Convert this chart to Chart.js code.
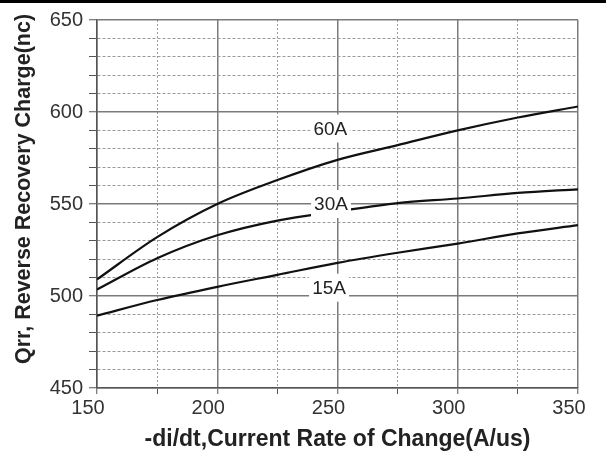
<!DOCTYPE html>
<html>
<head>
<meta charset="utf-8">
<script src="https://cdn.jsdelivr.net/npm/chart.js@4/dist/chart.umd.min.js"></script>
<style>
  html, body { margin: 0; padding: 0; background: #fff; }
  #wrap { width: 606px; height: 457px; }
</style>
</head>
<body>
<div id="wrap"><canvas id="qrr" width="606" height="457"></canvas></div>
<script>
// -di/dt (A/us) sample points
const diDt = [150, 175, 200, 225, 250, 275, 300, 325, 350];
// Reverse recovery charge Qrr (nC) for each forward current
const q60A = [509, 532, 550, 563, 574, 582, 590, 597, 603];
const q30A = [503.5, 520.5, 533, 541, 546, 550.5, 553, 556, 558];
const q15A = [489.3, 497.8, 505, 511.5, 518, 523.5, 528.5, 534, 538.5];
const currents = ['60A', '30A', '15A'];

const FONT = "'Liberation Sans', Arial, Helvetica, sans-serif";

function points(ys) {
  return diDt.map((x, i) => ({ x: x, y: ys[i] }));
}

// Curve labels: white boxes sitting on the curves, anchored in data units
const curveLabels = {
  id: 'curveLabels',
  afterDatasetsDraw(chart, args, opts) {
    const { ctx, scales: { x, y } } = chart;
    ctx.save();
    opts.items.forEach(item => {
      const px = x.getPixelForValue(item.at[0]);
      const py = y.getPixelForValue(item.at[1]);
      ctx.fillStyle = '#fff';
      ctx.fillRect(px - opts.boxW / 2, py - opts.boxH / 2, opts.boxW, opts.boxH);
      ctx.fillStyle = '#222';
      ctx.font = '19px ' + FONT;
      ctx.textAlign = 'center';
      ctx.textBaseline = 'middle';
      ctx.fillText(item.text, px, py + 1);
    });
    ctx.restore();
  }
};

// Axis titles and the dark strip across the top edge
const frameText = {
  id: 'frameText',
  beforeDraw(chart) {
    const { ctx, width } = chart;
    ctx.save();
    ctx.fillStyle = '#fff';
    ctx.fillRect(0, 0, width, chart.height);
    ctx.fillStyle = '#000';
    ctx.fillRect(0, 0, width, 3);
    ctx.restore();
  },
  afterDraw(chart, args, opts) {
    const { ctx, chartArea } = chart;
    ctx.save();
    ctx.fillStyle = '#222';
    ctx.textAlign = 'center';
    ctx.textBaseline = 'middle';
    ctx.font = 'bold 23px ' + FONT;
    ctx.fillText(opts.xTitle, (chartArea.left + chartArea.right) / 2, 440);
    ctx.font = 'bold 21.5px ' + FONT;
    ctx.translate(24, 189);
    ctx.rotate(-Math.PI / 2);
    ctx.fillText(opts.yTitle, 0, 0);
    ctx.restore();
  }
};

const isMajor = (ctx, step) => ctx.tick && Math.round(ctx.tick.value) % step === 0;

new Chart(document.getElementById('qrr'), {
  type: 'line',
  data: {
    datasets: [
      { label: currents[0], data: points(q60A) },
      { label: currents[1], data: points(q30A) },
      { label: currents[2], data: points(q15A) }
    ]
  },
  options: {
    responsive: false,
    animation: false,
    layout: { padding: { top: 20, right: 28, left: 0, bottom: 0 } },
    elements: {
      point: { radius: 0 },
      line: { borderColor: '#111', borderWidth: 2.2, cubicInterpolationMode: 'monotone', fill: false }
    },
    plugins: {
      legend: { display: false },
      tooltip: { enabled: false },
      curveLabels: {
        boxW: 40, boxH: 28,
        items: [
          { text: currents[0], at: [247, 591] },
          { text: currents[1], at: [247.3, 550] },
          { text: currents[2], at: [246.5, 504.5] }
        ]
      },
      frameText: {
        xTitle: '-di/dt,Current Rate of Change(A/us)',
        yTitle: 'Qrr, Reverse Recovery Charge(nc)'
      }
    },
    scales: {
      x: {
        type: 'linear',
        min: 150, max: 350,
        afterFit(s) { s.height = 69; },
        ticks: {
          stepSize: 25, autoSkip: false, maxRotation: 0,
          labelOffset: -9, padding: 2,
          color: '#333', font: { family: FONT, size: 20 },
          callback: v => (v % 50 === 0 ? String(v) : '')
        },
        grid: {
          color: c => (isMajor(c, 50) ? '#7a7a7a' : '#999'),
          lineWidth: c => (isMajor(c, 50) ? 1.5 : 1),
          tickLength: 6, tickColor: '#555', tickWidth: 1
        },
        border: { color: '#555', width: 1.5, dash: c => (isMajor(c, 50) ? [] : [2, 2]) }
      },
      y: {
        type: 'linear',
        min: 450, max: 650,
        afterFit(s) { s.width = 97; },
        ticks: {
          stepSize: 10, autoSkip: false, padding: 6,
          color: '#333', font: { family: FONT, size: 20 },
          callback: v => (v % 50 === 0 ? String(v) : '')
        },
        grid: {
          color: c => (isMajor(c, 50) ? '#7a7a7a' : '#999'),
          lineWidth: c => (isMajor(c, 50) ? 1.5 : 1),
          tickLength: 8, tickColor: '#555', tickWidth: 1
        },
        border: { color: '#555', width: 1.5, dash: c => (isMajor(c, 50) ? [] : [3, 2]) }
      }
    }
  },
  plugins: [curveLabels, frameText]
});
</script>
</body>
</html>
